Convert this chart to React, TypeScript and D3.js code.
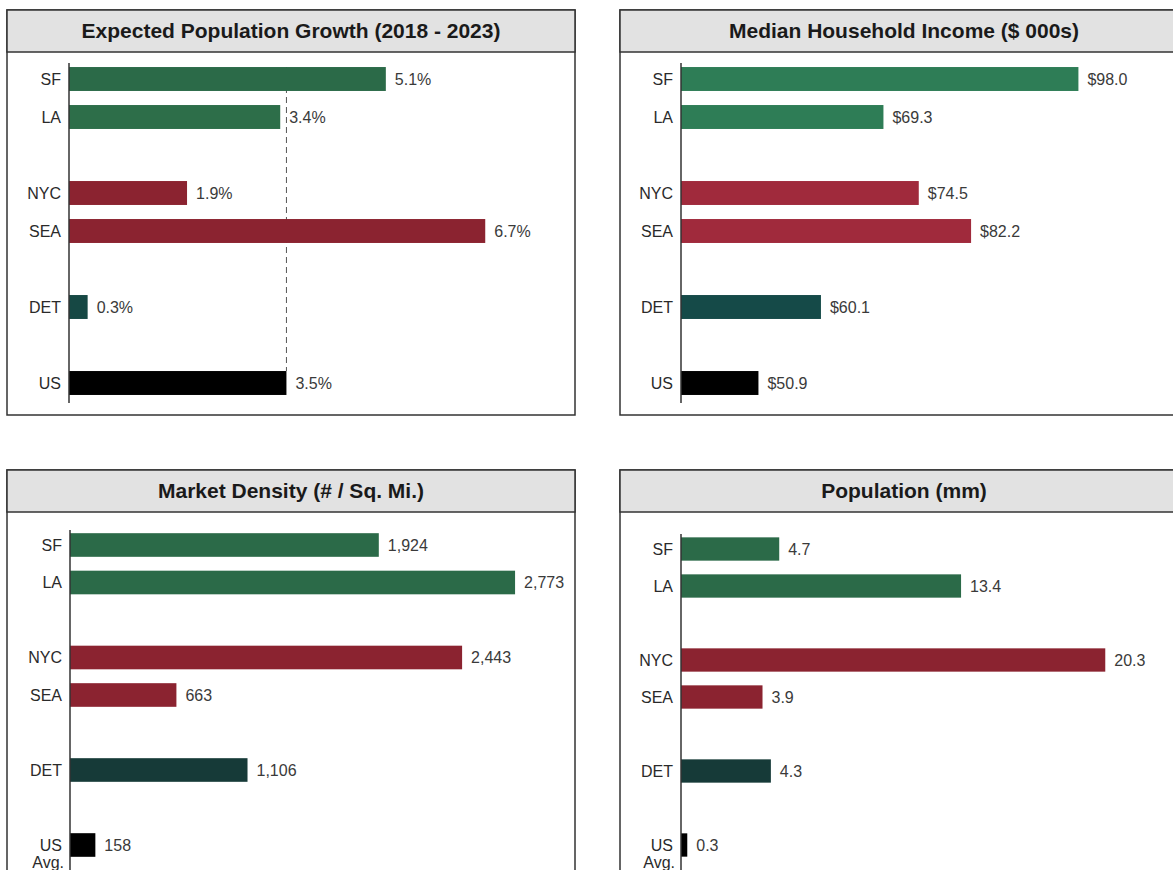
import React from 'react';
import * as d3 from 'd3';

const cities = ['SF', 'LA', 'NYC', 'SEA', 'DET', 'US'];
// slot order incl. blank rows between groups
const slots = ['SF', 'LA', 'gap1', 'NYC', 'SEA', 'gap2', 'DET', 'gap3', 'US'];

const growthValues = [5.1, 3.4, 1.9, 6.7, 0.3, 3.5];
const incomeValues = [98.0, 69.3, 74.5, 82.2, 60.1, 50.9];
const densityValues = [1924, 2773, 2443, 663, 1106, 158];
const populationValues = [4.7, 13.4, 20.3, 3.9, 4.3, 0.3];

const usGrowthRef = 3.5;

const FONT = "'Liberation Sans', Arial, Helvetica, sans-serif";

type PanelProps = {
  x: number;
  y: number;
  title: string;
  values: number[];
  colors: string[];
  fmt: (v: number) => string;
  xDomain: [number, number];
  xRange: [number, number];
  yRange: [number, number];
  axisY: [number, number];
  usAvg?: boolean;
  refValue?: number;
};

const PANEL_W = 568;
const PANEL_H = 405;
const HEADER_H = 42;
const LABEL_SIZE = 16;

const Panel = (p: PanelProps) => {
  const x = d3.scaleLinear().domain(p.xDomain).range(p.xRange);
  const y = d3
    .scaleBand()
    .domain(slots)
    .range(p.yRange)
    .paddingInner(0.37)
    .paddingOuter(0.185);
  const x0 = x(p.xDomain[0]);
  const bw = y.bandwidth();

  return (
    <g>
      <rect x={p.x} y={p.y} width={PANEL_W} height={PANEL_H} fill="#fff" stroke="#333" strokeWidth={1.5} />
      <rect x={p.x} y={p.y} width={PANEL_W} height={HEADER_H} fill="#e2e2e2" stroke="#333" strokeWidth={1.5} />
      <text
        x={p.x + PANEL_W / 2}
        y={p.y + HEADER_H / 2 + 7}
        textAnchor="middle"
        fontFamily={FONT}
        fontWeight="bold"
        fontSize={21}
        fill="#1a1a1a"
      >
        {p.title}
      </text>

      {p.refValue !== undefined && (
        <line
          x1={x(p.refValue)}
          x2={x(p.refValue)}
          y1={p.axisY[0] + 4}
          y2={y('US')!}
          stroke="#555"
          strokeWidth={1}
          strokeDasharray="6,4"
        />
      )}

      {cities.map((c, i) => {
        const yy = y(c)!;
        const v = p.values[i];
        const end = x(v);
        return (
          <g key={c}>
            <rect x={x0} y={yy} width={end - x0} height={bw} fill={p.colors[i]} />
            <text
              x={end + 9}
              y={yy + bw / 2 + 5.5}
              fontFamily={FONT}
              fontSize={LABEL_SIZE}
              fill="#3a3a3a"
            >
              {p.fmt(v)}
            </text>
            {c === 'US' && p.usAvg ? (
              <text x={x0 - 8} y={yy + bw / 2 + 5.5} textAnchor="end" fontFamily={FONT} fontSize={LABEL_SIZE} fill="#2a2a2a">
                <tspan x={x0 - 8}>US</tspan>
                <tspan x={x0 - 6} dy={17}>Avg.</tspan>
              </text>
            ) : (
              <text x={x0 - 8} y={yy + bw / 2 + 5.5} textAnchor="end" fontFamily={FONT} fontSize={LABEL_SIZE} fill="#2a2a2a">
                {c}
              </text>
            )}
          </g>
        );
      })}

      <line x1={x0} x2={x0} y1={p.axisY[0]} y2={p.axisY[1]} stroke="#333" strokeWidth={1.5} />
    </g>
  );
};

const App = () => {
  const topColors = ['#2b6a48', '#2d6e49', '#8b2330', '#8b2330', '#164844', '#000'];
  const incomeColors = ['#2e7d56', '#2e7d56', '#a02a3c', '#a02a3c', '#154a48', '#000'];
  const bottomColors = ['#2b6a48', '#2b6a48', '#8b2330', '#8b2330', '#163a38', '#000'];

  return (
    <div style={{ position: 'absolute', left: 0, top: 0 }}>
      <svg width={1173} height={870} style={{ display: 'block', background: '#fff' }}>
        <Panel
          x={7}
          y={10}
          title="Expected Population Growth (2018 - 2023)"
          values={growthValues}
          colors={topColors}
          fmt={(v) => d3.format('.1f')(v) + '%'}
          xDomain={[0, 8]}
          xRange={[69, 566]}
          yRange={[60, 402]}
          axisY={[63, 403]}
          refValue={usGrowthRef}
        />
        <Panel
          x={620}
          y={10}
          title="Median Household Income ($ 000s)"
          values={incomeValues}
          colors={incomeColors}
          fmt={(v) => '$' + d3.format('.1f')(v)}
          xDomain={[39.5, 100]}
          xRange={[681, 1092]}
          yRange={[60, 402]}
          axisY={[63, 403]}
        />
        <Panel
          x={7}
          y={470}
          title="Market Density (# / Sq. Mi.)"
          values={densityValues}
          colors={bottomColors}
          fmt={d3.format(',')}
          xDomain={[0, 3000]}
          xRange={[70, 551.5]}
          yRange={[526.25, 863.75]}
          axisY={[530, 880]}
          usAvg
        />
        <Panel
          x={620}
          y={470}
          title="Population (mm)"
          values={populationValues}
          colors={bottomColors}
          fmt={d3.format('.1f')}
          xDomain={[0, 22]}
          xRange={[681, 1140.8]}
          yRange={[530.5, 863.5]}
          axisY={[534, 880]}
          usAvg
        />
      </svg>
    </div>
  );
};

export default App;
